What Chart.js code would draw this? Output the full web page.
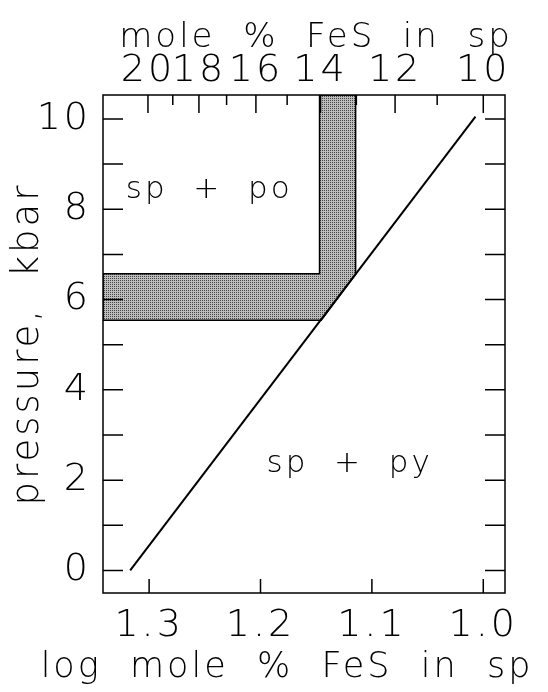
<!DOCTYPE html>
<html>
<head>
<meta charset="utf-8">
<script src="https://cdn.jsdelivr.net/npm/chart.js@4.4.1/dist/chart.umd.min.js"></script>
<style>
    html, body { margin: 0; padding: 0; background: #fff; }
    #wrap { width: 548px; height: 692px; }
</style>
</head>
<body>
<div id="wrap"><canvas id="chart"></canvas></div>
<script>
(function () {
    // boundary sp+py / sp+po (log mole % FeS vs pressure)
    const lineLogFeS = [1.317, 1.007];
    const linePressure = [0, 10.05];

    // shaded uncertainty band
    const shadeLogFeS = [1.3414, 1.147, 1.147, 1.1146, 1.1146, 1.1455, 1.3414, 1.3414];
    const shadePressure = [6.57, 6.57, 10.53, 10.53, 6.56, 5.54, 5.54, 6.57];

    const logTicks = [1.0, 1.1, 1.2, 1.3];
    const moleTicks = [20, 19, 18, 17, 16, 15, 14, 13, 12, 11, 10];
    const pressureTicks = [0, 1, 2, 3, 4, 5, 6, 7, 8, 9, 10];
    const pressureLabels = [0, 2, 4, 6, 8, 10];

    const fieldLabels = ['sp  +  po', 'sp  +  py'];
    const bottomTitle = 'log  mole  %  FeS  in  sp';
    const topTitle = 'mole  %  FeS  in  sp';

    const FONT = '"DejaVu Sans", sans-serif';

    function makePattern() {
        const c = document.createElement('canvas');
        c.width = 2;
        c.height = 2;
        const g = c.getContext('2d');
        g.fillStyle = '#bdbdbd';
        g.fillRect(0, 0, 2, 2);
        g.fillStyle = '#444';
        g.fillRect(0, 0, 1, 1);
        return g.createPattern(c, 'repeat');
    }

    const spacing = {
        id: 'spacing',
        beforeUpdate: function (chart) { chart.ctx.letterSpacing = '3px'; },
        beforeDraw: function (chart) { chart.ctx.letterSpacing = '3px'; }
    };

    // inward tick marks, frame, axis titles wider than the plot, field labels
    const frame = {
        id: 'frame',
        afterDraw: function (chart) {
            const ctx = chart.ctx;
            const a = chart.chartArea;
            const x = chart.scales.x;
            const y = chart.scales.y;
            ctx.save();
            ctx.strokeStyle = '#000';
            ctx.lineWidth = 1.5;
            ctx.beginPath();
            pressureTicks.forEach(function (p) {
                const py = y.getPixelForValue(p);
                ctx.moveTo(a.left, py);
                ctx.lineTo(a.left + 20, py);
                ctx.moveTo(a.right, py);
                ctx.lineTo(a.right - 20, py);
            });
            logTicks.forEach(function (v) {
                const px = x.getPixelForValue(v);
                ctx.moveTo(px, a.bottom);
                ctx.lineTo(px, a.bottom - 14);
            });
            moleTicks.forEach(function (m) {
                const px = chart.scales.x2.getPixelForValue(Math.log10(m));
                ctx.moveTo(px, a.top);
                ctx.lineTo(px, a.top + (m % 2 === 0 ? 18 : 10));
            });
            ctx.stroke();
            ctx.strokeRect(a.left, a.top, a.right - a.left, a.bottom - a.top);

            ctx.fillStyle = '#000';
            ctx.textAlign = 'center';
            ctx.textBaseline = 'alphabetic';
            ctx.font = '200 35px ' + FONT;
            ctx.fillText(bottomTitle, 287, 677);
            ctx.font = '200 34px ' + FONT;
            ctx.fillText(topTitle, 316, 47);

            ctx.font = '200 31px ' + FONT;
            ctx.fillText(fieldLabels[0], x.getPixelForValue(1.246), y.getPixelForValue(8.24));
            ctx.fillText(fieldLabels[1], x.getPixelForValue(1.120), y.getPixelForValue(2.19));
            ctx.restore();
        }
    };

    const canvas = document.getElementById('chart');

    new Chart(canvas.getContext('2d'), {
        type: 'scatter',
        data: {
            datasets: [
                {
                    label: 'boundary',
                    data: lineLogFeS.map(function (v, i) { return { x: v, y: linePressure[i] }; }),
                    showLine: true,
                    borderColor: '#000',
                    borderWidth: 2,
                    pointRadius: 0
                },
                {
                    label: 'band',
                    data: shadeLogFeS.map(function (v, i) { return { x: v, y: shadePressure[i] }; }),
                    showLine: true,
                    fill: 'shape',
                    backgroundColor: makePattern(),
                    borderColor: '#000',
                    borderWidth: 1.5,
                    pointRadius: 0,
                    tension: 0
                }
            ]
        },
        options: {
            responsive: true,
            maintainAspectRatio: false,
            animation: false,
            layout: { padding: { left: 0, right: 43, top: 0, bottom: 0 } },
            plugins: {
                legend: { display: false },
                tooltip: { enabled: false }
            },
            scales: {
                x: {
                    type: 'linear',
                    position: 'bottom',
                    reverse: true,
                    min: 0.9805,
                    max: 1.3414,
                    grid: { display: false, drawTicks: false },
                    border: { display: false },
                    afterBuildTicks: function (s) {
                        s.ticks = logTicks.map(function (v) { return { value: v }; });
                    },
                    afterFit: function (s) { s.height = 99; },
                    ticks: {
                        autoSkip: false,
                        maxRotation: 0,
                        minRotation: 0,
                        padding: 10,
                        color: '#000',
                        font: { family: FONT, size: 38, weight: 200 },
                        callback: function (v) { return Number(v).toFixed(1); }
                    }
                },
                x2: {
                    type: 'linear',
                    position: 'top',
                    reverse: true,
                    min: 0.9805,
                    max: 1.3414,
                    grid: { display: false, drawTicks: false },
                    border: { display: false },
                    afterBuildTicks: function (s) {
                        s.ticks = moleTicks.map(function (m) { return { value: Math.log10(m) }; });
                    },
                    afterFit: function (s) { s.height = 95; },
                    ticks: {
                        autoSkip: false,
                        maxRotation: 0,
                        minRotation: 0,
                        padding: 1,
                        color: '#000',
                        font: { family: FONT, size: 38, weight: 200 },
                        callback: function (v) {
                            const m = Math.round(Math.pow(10, v));
                            return m % 2 === 0 ? String(m) : '';
                        }
                    }
                },
                y: {
                    type: 'linear',
                    position: 'left',
                    min: -0.5,
                    max: 10.53,
                    grid: { display: false, drawTicks: false },
                    border: { display: false },
                    afterBuildTicks: function (s) {
                        s.ticks = pressureLabels.map(function (v) { return { value: v }; });
                    },
                    afterFit: function (s) { s.width = 103; },
                    ticks: {
                        autoSkip: false,
                        padding: 12,
                        color: '#000',
                        font: { family: FONT, size: 38, weight: 200 }
                    },
                    title: {
                        display: true,
                        text: 'pressure,  kbar',
                        color: '#000',
                        padding: { top: 6, bottom: 0 },
                        font: { family: FONT, size: 37, weight: 200 }
                    }
                }
            }
        },
        plugins: [spacing, frame]
    });
})();
</script>
</body>
</html>
